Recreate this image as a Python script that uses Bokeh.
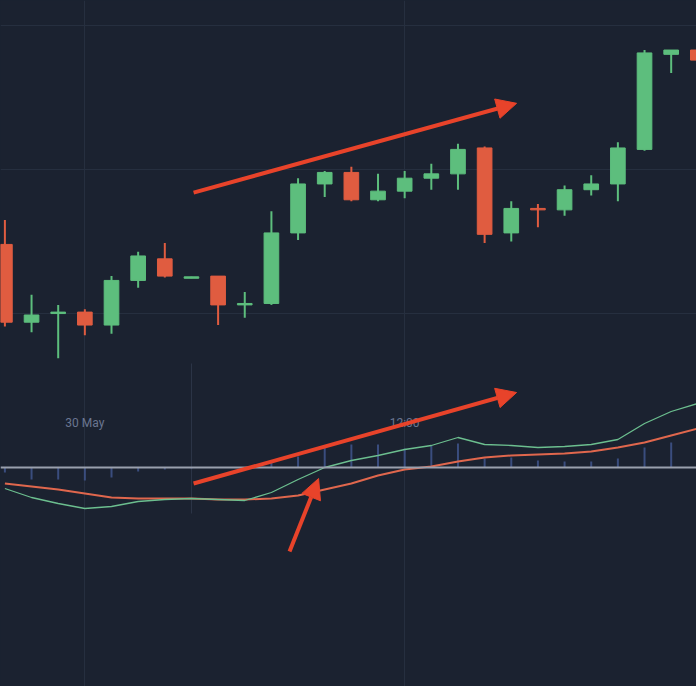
from bokeh.plotting import figure
from bokeh.models import Range1d, FixedTicker, Span, Arrow, NormalHead, ColumnDataSource, Grid
from bokeh.core.properties import value
from bokeh.embed import file_html
from bokeh.resources import INLINE

# ---- data ----
bar_index = list(range(27))
open_ = [104.8, 99.4, 100.0, 100.1, 99.2, 102.3, 103.8, 102.45, 102.6, 100.6, 100.7, 105.6, 109.0,
         109.8, 107.9, 108.5, 109.4, 109.7, 111.5, 105.6, 107.3, 107.2, 108.6, 109.0, 111.4, 118.0, 118.3]
high_ = [106.5, 101.3, 100.6, 100.3, 102.6, 104.3, 104.9, 102.55, 102.6, 101.5, 107.1, 109.4, 109.9,
         110.2, 109.7, 109.9, 110.4, 111.8, 111.6, 107.8, 107.6, 108.9, 109.6, 111.9, 118.3, 118.3, 118.5]
low_ = [99.1, 98.7, 96.9, 98.5, 98.6, 101.8, 102.5, 102.45, 99.2, 99.7, 100.6, 105.1, 108.1,
        107.8, 107.8, 108.0, 108.6, 108.6, 104.9, 105.0, 106.0, 106.8, 108.2, 107.8, 111.3, 116.7, 117.4]
close_ = [99.4, 99.9, 100.1, 99.2, 102.3, 104.0, 102.6, 102.55, 100.6, 100.7, 105.6, 109.0, 109.8,
          107.9, 108.5, 109.4, 109.7, 111.4, 105.5, 107.3, 107.2, 108.6, 109.0, 111.5, 118.1, 118.3, 117.6]

macd_line = [-0.21, -0.30, -0.36, -0.41, -0.39, -0.34, -0.32, -0.31, -0.32, -0.33, -0.25, -0.12, 0.00,
             0.07, 0.12, 0.18, 0.22, 0.30, 0.23, 0.22, 0.20, 0.21, 0.23, 0.28, 0.44, 0.56, 0.64]
signal_line = [-0.16, -0.19, -0.22, -0.26, -0.30, -0.31, -0.31, -0.31, -0.32, -0.32, -0.31, -0.28, -0.22,
               -0.16, -0.08, -0.02, 0.01, 0.06, 0.10, 0.12, 0.13, 0.14, 0.16, 0.20, 0.25, 0.32, 0.39]
histogram = [-0.05, -0.12, -0.12, -0.13, -0.10, -0.04, -0.02, -0.01, 0.0, 0.0, 0.05, 0.11, 0.20,
             0.23, 0.23, 0.19, 0.22, 0.24, 0.09, 0.10, 0.07, 0.06, 0.06, 0.09, 0.20, 0.25, 0.27]

time_tick_index = [3, 15]
time_tick_labels = ["30 May", "12:00"]
price_grid = [100, 110, 120]
cursor_index = 7
cursor_macd_span = [1.04, -0.46]

# annotation arrows (start x, start y, end x, end y)
price_arrow = [7.08, 108.4, 19.2, 114.6]
macd_arrow = [7.08, -0.16, 19.2, 0.75]
cross_arrow = [10.68, -0.84, 11.77, -0.11]

# ---- styling ----
BG = "#1b2230"
GREEN = "#5dbe7d"
RED = "#e05c40"
ARROW = "#e8432a"
GRID = "#262f3f"

p = figure(width=696, height=686, output_backend="svg", toolbar_location=None,
           x_range=Range1d(-0.165, 25.95), y_range=Range1d(74.10, 121.74),
           x_axis_location=None, y_axis_location=None,
           min_border=0, min_border_left=0, min_border_right=0, min_border_top=0, min_border_bottom=0)
p.extra_y_ranges = {"macd": Range1d(-2.19, 4.67)}
p.background_fill_color = BG
p.border_fill_color = BG
p.outline_line_color = None
p.renderers = list(p.renderers)
# remove default grids (if any) and add explicit ones
for g in list(p.center):
    if isinstance(g, Grid):
        p.center.remove(g)
p.add_layout(Grid(dimension=0, ticker=FixedTicker(ticks=time_tick_index),
                  grid_line_color=GRID, grid_line_width=1), "center")
p.add_layout(Grid(dimension=1, ticker=FixedTicker(ticks=price_grid),
                  grid_line_color=GRID, grid_line_width=1), "center")

# cursor line in indicator pane
p.segment(x0=[cursor_index], x1=[cursor_index], y0=[cursor_macd_span[0]], y1=[cursor_macd_span[1]],
          y_range_name="macd", line_color="#2c3648", line_width=1)

# histogram
hist_src = ColumnDataSource(dict(x=bar_index, top=histogram, zero=[0.0] * len(bar_index)))
p.segment(x0="x", x1="x", y0="zero", y1="top", source=hist_src, y_range_name="macd",
          line_color="#3a4d7e", line_width=2)

p.add_layout(Span(location=0, dimension="width", y_range_name="macd",
                  line_color="#9aa0ad", line_width=2))

p.line(bar_index, signal_line, y_range_name="macd", line_color="#e0674d", line_width=2)
p.line(bar_index, macd_line, y_range_name="macd", line_color="#6cbf8f", line_width=1.3)

# candles
colors = [GREEN if c >= o else RED for o, c in zip(open_, close_)]
src = ColumnDataSource(dict(x=bar_index, o=open_, h=high_, l=low_, c=close_,
                            top=[max(o, c) for o, c in zip(open_, close_)],
                            bottom=[min(o, c) for o, c in zip(open_, close_)],
                            color=colors))
p.segment(x0="x", x1="x", y0="l", y1="h", source=src, line_color="color", line_width=2)
p.vbar(x="x", width=0.55, top="top", bottom="bottom", source=src,
       fill_color="color", line_color="color", line_width=1)

# time labels
p.text(x=time_tick_index, y=[0.45, 0.45], text=time_tick_labels, y_range_name="macd",
       text_align="center", text_baseline="middle", text_color="#6a7690",
       text_font=value("Roboto"), text_font_size="12px")

# arrows
def add_arrow(a, rng=None):
    kw = dict(end=NormalHead(size=20, fill_color=ARROW, line_color=ARROW),
              x_start=a[0], y_start=a[1], x_end=a[2], y_end=a[3],
              line_color=ARROW, line_width=4)
    if rng:
        kw["y_range_name"] = rng
    p.add_layout(Arrow(**kw))

add_arrow(price_arrow)
add_arrow(macd_arrow, "macd")
add_arrow(cross_arrow, "macd")

html = file_html(p, INLINE)
html = html.replace("<head>", "<head><style>html,body{margin:0;padding:0;background:#1b2230;}</style>", 1)
open("out.html", "w").write(html)
